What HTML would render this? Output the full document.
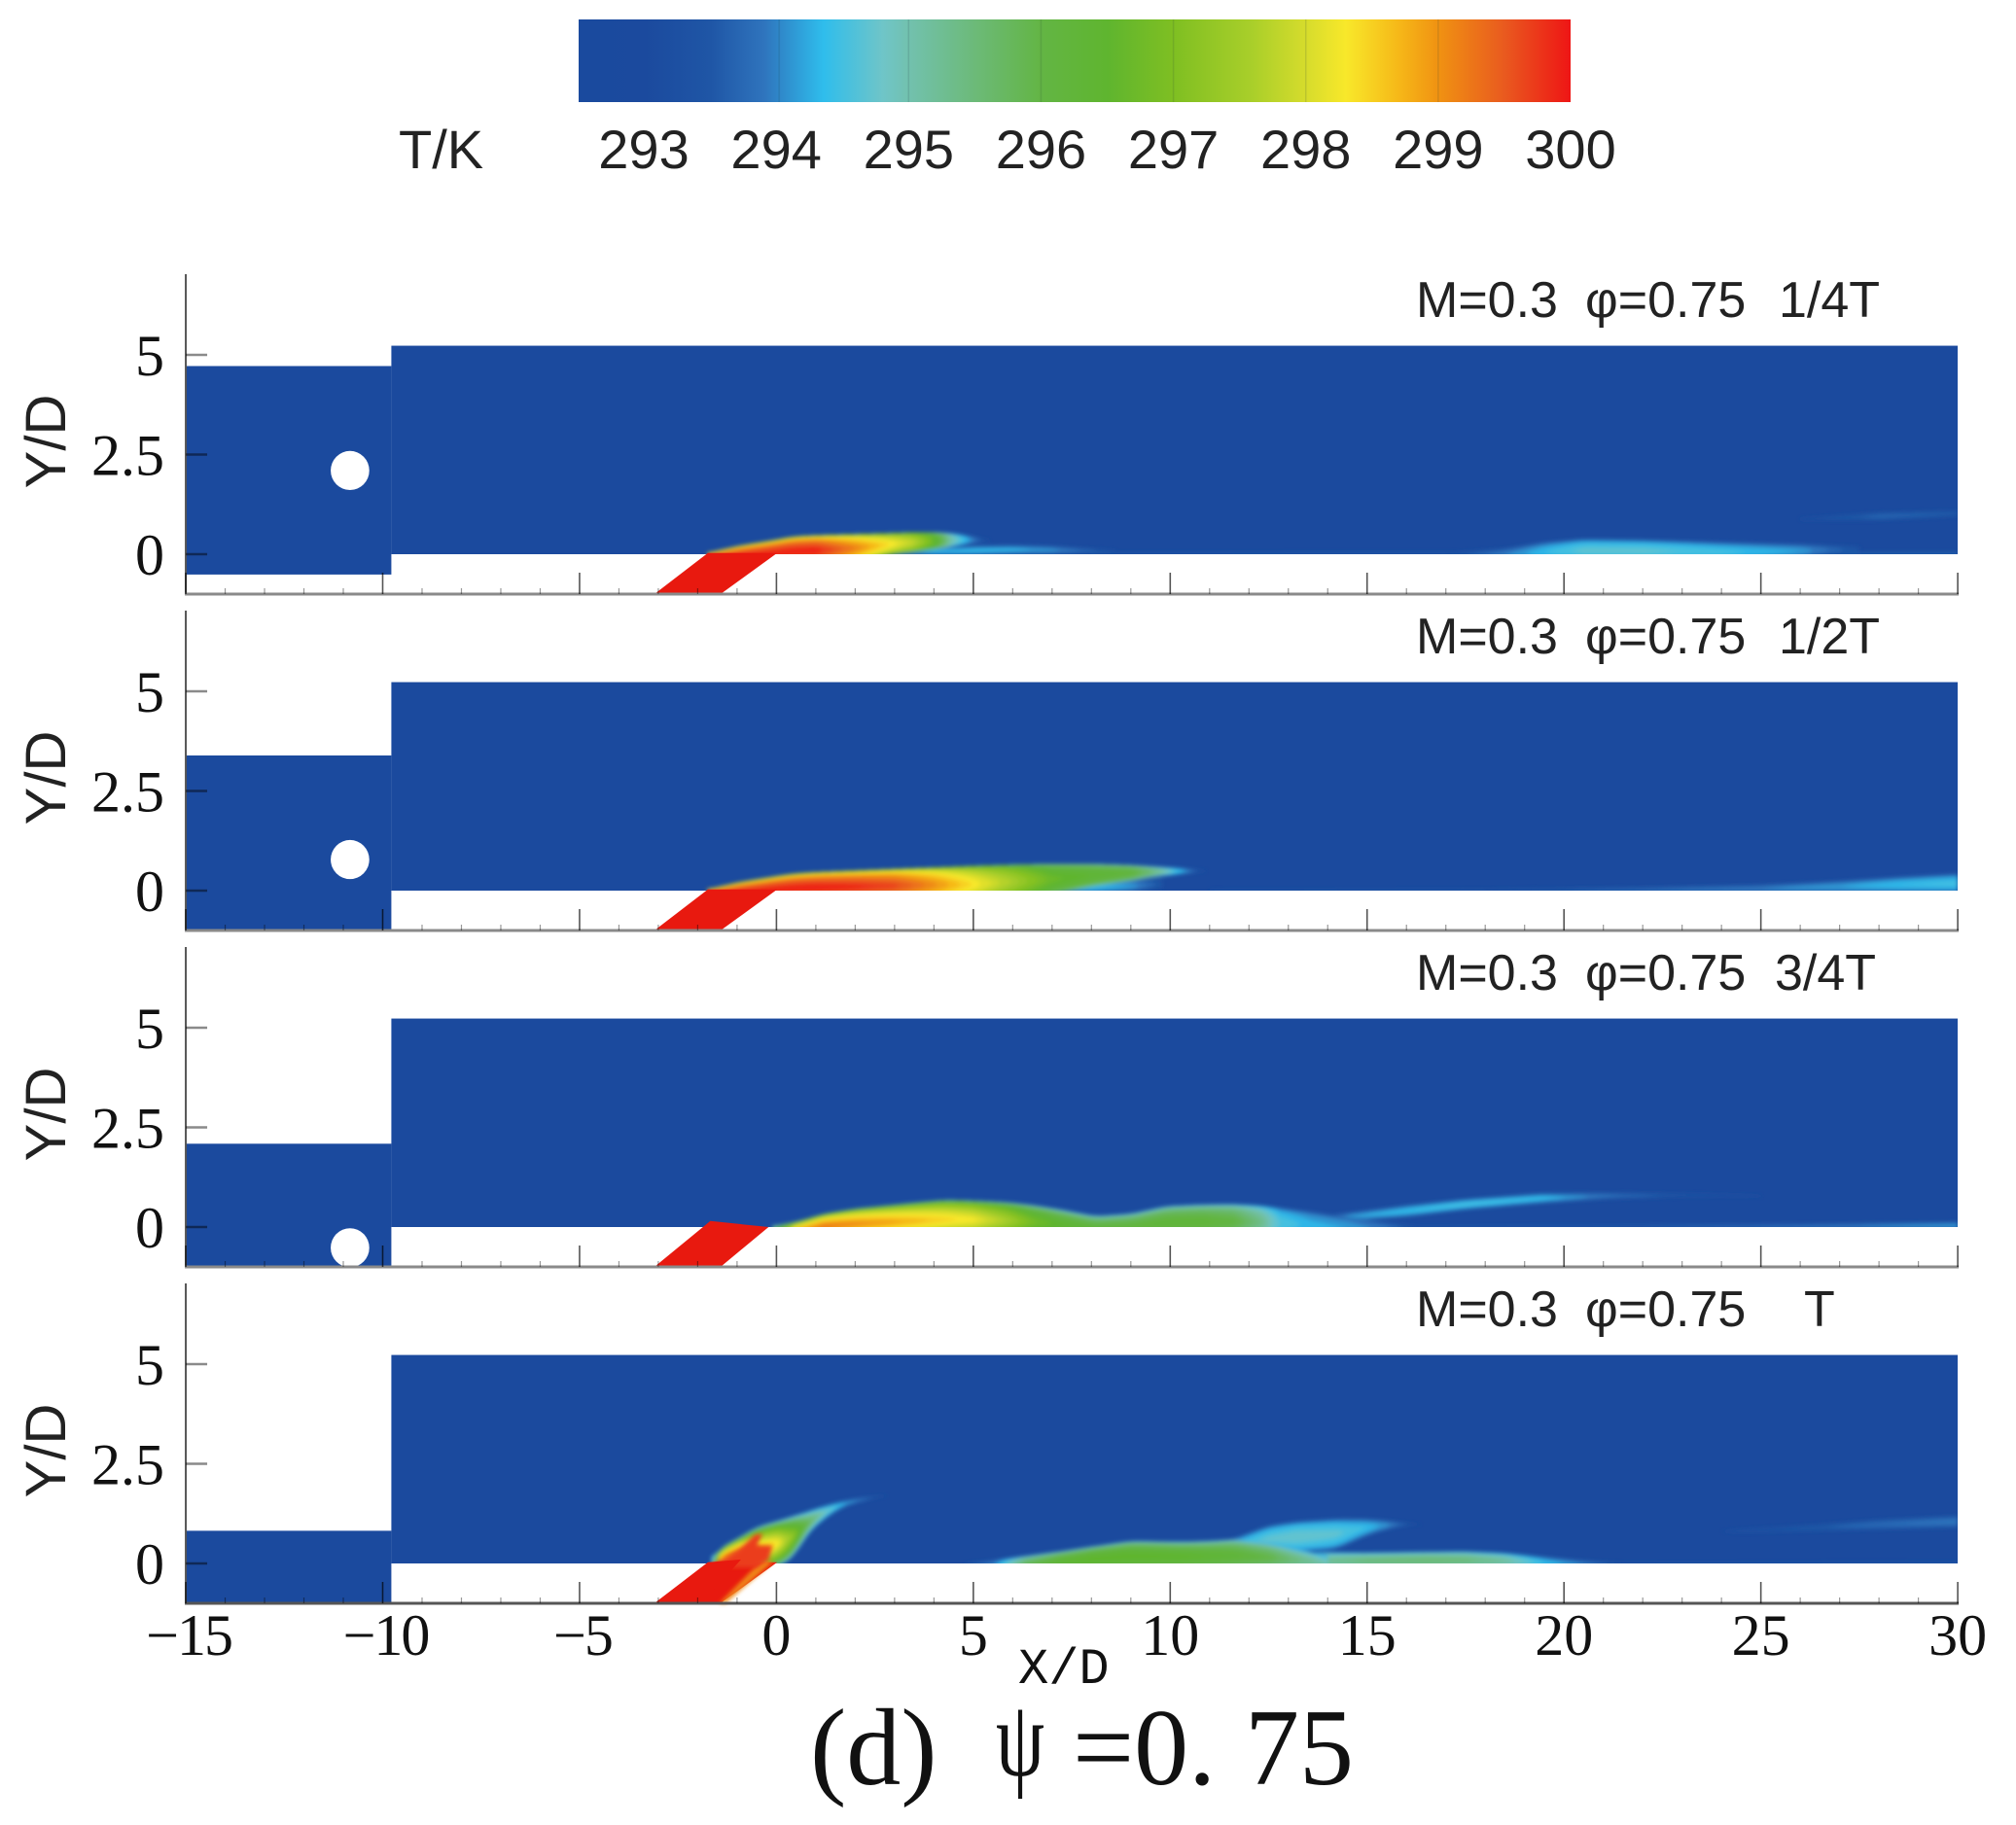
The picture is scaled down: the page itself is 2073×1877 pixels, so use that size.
<!DOCTYPE html>
<html lang="en">
<head>
<meta charset="utf-8">
<title>Temperature contours, psi = 0.75</title>
<style>
html,body{margin:0;padding:0;background:#fff;}
svg{display:block;}
.sans{font-family:"Liberation Sans",sans-serif;fill:#222;}
.serif{font-family:"Liberation Serif",serif;fill:#111;}
.mult{mix-blend-mode:multiply;}
</style>
</head>
<body>
<svg id="figure" xmlns="http://www.w3.org/2000/svg" width="2073" height="1877" viewBox="0 0 2073 1877">
  <defs>
    <linearGradient id="barGrad" x1="0" x2="1" y1="0" y2="0"></linearGradient>
    <filter id="soft" x="-5%" y="-50%" width="110%" height="200%"><feGaussianBlur stdDeviation="2"></feGaussianBlur></filter>
  </defs>
  <rect width="2073" height="1877" fill="#ffffff"></rect>
  <g id="colorbar"></g>
  <g id="plots"></g>

  <text class="sans" x="410" y="173" font-size="56">T/K</text>

  <g class="sans" font-size="52">
    <text x="1456" y="326">M=0.3</text><text x="1630" y="326">φ=0.75</text><text x="1829" y="326">1/4T</text>
  </g>
  <g class="sans" font-size="52">
    <text x="1456" y="672">M=0.3</text><text x="1630" y="672">φ=0.75</text><text x="1829" y="672">1/2T</text>
  </g>
  <g class="sans" font-size="52">
    <text x="1456" y="1018">M=0.3</text><text x="1630" y="1018">φ=0.75</text><text x="1825" y="1018">3/4T</text>
  </g>
  <g class="sans" font-size="52">
    <text x="1456" y="1364">M=0.3</text><text x="1630" y="1364">φ=0.75</text><text x="1855" y="1364">T</text>
  </g>

  <text class="sans" font-size="58" text-anchor="middle" transform="translate(67,454) rotate(-90)">Y/D</text>
  <text class="sans" font-size="58" text-anchor="middle" transform="translate(67,800) rotate(-90)">Y/D</text>
  <text class="sans" font-size="58" text-anchor="middle" transform="translate(67,1146) rotate(-90)">Y/D</text>
  <text class="sans" font-size="58" text-anchor="middle" transform="translate(67,1492) rotate(-90)">Y/D</text>

  <text font-family="'Liberation Mono',monospace" fill="#111" font-size="52" x="1047" y="1731">X/D</text>

  <g class="serif" font-size="112">
    <text x="833" y="1835">(d)</text>
    <text x="1024" y="1826" textLength="50" lengthAdjust="spacingAndGlyphs">ψ</text>
    <text x="1103" y="1835">=0.</text>
    <text x="1280" y="1835">75</text>
  </g>
</svg>

<script>
// Colormap
const mapTemps = [292.5,293,293.5,293.9,294.35,294.8,295,295.5,296,296.5,297,297.6,298,298.3,298.7,299,299.5,300];
const mapColors = ['#1a4a9e','#1b4a9e','#1f56a6','#2f74bd','#2fbdec','#6fc5c8','#72c1ae','#6cba78','#63b544','#5fb52f','#7fbf22','#aacf2a','#d6dc2c','#f8e82a','#f6b818','#f09212','#e95a1f','#ee1515'];
const barTicks = [293,294,295,296,297,298,299,300];

// Axis ticks
const xTicks = [-15,-10,-5,0,5,10,15,20,25,30];
const xMinorTicks = [-14,-13,-12,-11,-9,-8,-7,-6,-4,-3,-2,-1,1,2,3,4,6,7,8,9,11,12,13,14,16,17,18,19,21,22,23,24,26,27,28,29];
const yTicks = [5,2.5,0];

// Moving upstream plate: top edge and hole centre in each panel (Y/D)
const plateTop = [4.72,3.39,2.09,0.82];
const plateHoleY = [2.1,0.78,-0.52,-1.8];

// Coolant hole outlines
const slotX = [-3.1,-1.42,0.02,-1.74];
const slotY = [-1,-1,0.03,0.03];
const slot3X = [-3.1,-1.42,-0.2,-1.68];
const slot3Y = [-1,-1,0,0.15];

// Panel 1 (1/4T)
const p1JetX = [-1.74,-1,0,0.4,1,2,3,3.5,4,4.5,5,5.4];
const p1JetTop = [0.03,0.2,0.36,0.44,0.47,0.5,0.53,0.55,0.55,0.52,0.44,0.36];
const p1JetLow = [-0.3,-0.3,-0.3,-0.3,-0.3,-0.2,0,0.05,0.12,0.2,0.28,0.32];
const p1JetPeak = [300,300,300,300,300,299.2,298.3,297.8,296.8,295,294,293.3];
const p1WakeX = [3,4,5,6,7,8,8.6];
const p1WakeTop = [0.1,0.14,0.2,0.22,0.2,0.14,0.1];
const p1WakeLow = [-0.02,-0.02,-0.02,0,0,0.02,0.04];
const p1WakePeak = [293.8,294.4,294.4,294.3,294.1,293.7,293.3];
const p1FarX = [17,18.5,19.5,20.5,22,24,26,27.5];
const p1FarTop = [0.04,0.14,0.3,0.38,0.36,0.3,0.25,0.2];
const p1FarLow = [-0.2,-0.2,-0.2,-0.2,-0.2,-0.2,-0.1,0.05];
const p1FarPeak = [293.4,294,294.4,294.7,294.7,294.5,294.2,293.4];
const p1StreakX = [26,28,30];
const p1StreakTop = [0.9,1.05,1.1];
const p1StreakLow = [0.85,0.85,0.95];
const p1StreakPeak = [293.3,293.7,293.6];
const p1WallX = [8,14,20,30];
const p1WallTop = [0.04,0.05,0.05,0.05];
const p1WallLow = [-0.05,-0.05,-0.05,-0.05];
const p1WallPeak = [293.5,293.6,293.6,293.7];

// Panel 2 (1/2T)
const p2JetX = [-1.74,-1,0,0.4,1,2,3,4,5,6,7,8,9,9.6,10.3,10.9];
const p2JetTop = [0.03,0.2,0.36,0.42,0.46,0.5,0.54,0.58,0.62,0.65,0.67,0.67,0.64,0.6,0.56,0.5];
const p2JetLow = [-0.3,-0.3,-0.3,-0.3,-0.3,-0.3,-0.3,-0.3,-0.3,-0.2,-0.1,0.1,0.25,0.35,0.42,0.48];
const p2JetPeak = [300,300,300,300,300,299.9,299.7,299.1,298.4,297.6,296.7,296.4,296.2,295.5,294.3,293.3];
const p2WakeX = [4,6,7,8,9,9.8];
const p2WakeTop = [0.05,0.1,0.14,0.2,0.25,0.3];
const p2WakeLow = [-0.05,-0.05,-0.05,-0.05,-0.02,0.05];
const p2WakePeak = [293.6,294.2,294.4,294.4,294.2,293.5];
const p2FarX = [18,22,25,27,28.5,30];
const p2FarTop = [0.04,0.08,0.14,0.24,0.34,0.42];
const p2FarLow = [-0.05,-0.05,-0.05,-0.05,-0.05,-0.05];
const p2FarPeak = [293.4,293.8,294,294.2,294.4,294.5];
const p2WallX = [11,18];
const p2WallTop = [0.03,0.04];
const p2WallLow = [-0.05,-0.05];
const p2WallPeak = [293.4,293.5];

// Panel 3 (3/4T)
const p3JetX = [-0.1,0.5,1.2,2,2.9,3.6,4.3,5,5.85,6.5,7.2,8.1,9,9.9,10.8,11.6,12.3,12.8,13.6,14.5,15.5,16.3];
const p3JetTop = [0.02,0.13,0.33,0.46,0.55,0.62,0.68,0.66,0.62,0.55,0.44,0.27,0.33,0.52,0.56,0.57,0.54,0.48,0.38,0.24,0.12,0.03];
const p3JetLow = [-0.3,-0.3,-0.3,-0.3,-0.3,-0.3,-0.3,-0.3,-0.3,-0.3,-0.3,-0.3,-0.3,-0.3,-0.3,-0.3,-0.3,-0.3,-0.3,-0.3,-0.3,-0.3];
const p3JetPeak = [296,298.8,299.3,299.1,298.9,298.7,298.5,298.3,297.6,296.9,296.5,296.2,296.2,296.3,296.3,296.1,295.4,294.6,294.3,294.2,293.9,293.4];
const p3StreakX = [13.5,14.7,16,17.5,19.4,21,23,25];
const p3StreakTop = [0.24,0.38,0.54,0.7,0.84,0.86,0.84,0.8];
const p3StreakLow = [0.14,0.16,0.26,0.44,0.6,0.7,0.76,0.76];
const p3StreakPeak = [293.5,294.2,294.4,294.5,294.4,293.9,293.5,293.3];
const p3WallX = [16,22,26,30];
const p3WallTop = [0.03,0.05,0.07,0.12];
const p3WallLow = [-0.05,-0.05,-0.05,-0.05];
const p3WallPeak = [293.5,293.6,293.9,294.2];

// Panel 4 (T)
const p4JetX = [-1.65,-1.43,-1,-0.5,0,0.45,0.77,1.2,1.7,2.2,2.8];
const p4JetTop = [0.1,0.4,0.62,0.92,1.06,1.2,1.3,1.45,1.58,1.66,1.72];
const p4JetLow = [-0.1,-0.1,-0.1,-0.15,-0.1,0.15,0.72,1.1,1.42,1.56,1.7];
const p4JetPeak = [295,299,299.6,298.8,298.5,297.2,296,295,294.3,293.9,293.3];
const p4WallAX = [4.8,5.5,6.3,7.2,8,9,10.3,11,11.6,12.5,13.2,13.7,14];
const p4WallATop = [0.01,0.08,0.18,0.3,0.42,0.56,0.54,0.56,0.6,0.5,0.36,0.26,0.18];
const p4WallALow = [-0.2,-0.2,-0.2,-0.2,-0.2,-0.2,-0.2,-0.2,-0.2,-0.2,-0.2,-0.2,-0.2];
const p4WallAPeak = [293.5,294,295.8,296.4,296.6,296.6,296.5,296.4,296.3,296,295.5,295.2,295];
const p4LobeX = [11,11.6,12.5,13.2,14.2,15,15.5,16,16.4];
const p4LobeTop = [0.5,0.62,0.95,1.05,1.12,1.12,1.08,1.02,0.98];
const p4LobeLow = [0.3,0.3,0.28,0.28,0.35,0.7,0.85,0.95,0.98];
const p4LobePeak = [293.8,294.4,294.7,294.8,294.7,294.4,294.1,293.6,293.2];
const p4WallBX = [13.5,15,16.5,17.5,18.5,19.5,20.5,21.5];
const p4WallBTop = [0.28,0.27,0.29,0.3,0.26,0.16,0.07,0.02];
const p4WallBLow = [-0.15,-0.15,-0.15,-0.15,-0.15,-0.15,-0.15,-0.15];
const p4WallBPeak = [295.2,295.5,295.6,295.5,295.2,294.4,294,293.4];
const p4FarX = [24,26,28,30];
const p4FarTop = [0.85,0.95,1.1,1.2];
const p4FarLow = [0.75,0.8,0.85,0.9];
const p4FarPeak = [293.2,293.5,293.8,293.9];
const p4WallCX = [21,30];
const p4WallCTop = [0.02,0.03];
const p4WallCLow = [-0.05,-0.05];
const p4WallCPeak = [293.5,293.6];
const p4FlameX = [-1.6,-1,-0.55,-0.35,-0.5,-0.1,-0.2,-0.5,-1.6];
const p4FlameY = [0,0.3,0.72,0.75,0.45,0.45,0.1,-0.1,-0.1];
const p4FlameT = [299.7];
const p4StripX = [-0.35,-0.08,-1.3,-1.45];
const p4StripY = [0.1,0.05,-1,-1];
const p4StripT = [299.1];

// Plume grouping per panel (fifth entry: sharpness of the thermal edge)
const panel1Plumes = [
  [p1WallX,p1WallTop,p1WallLow,p1WallPeak,4],[p1FarX,p1FarTop,p1FarLow,p1FarPeak,4],[p1StreakX,p1StreakTop,p1StreakLow,p1StreakPeak,4],
  [p1WakeX,p1WakeTop,p1WakeLow,p1WakePeak,4],[p1JetX,p1JetTop,p1JetLow,p1JetPeak,8]];
const panel2Plumes = [
  [p2WallX,p2WallTop,p2WallLow,p2WallPeak,4],[p2FarX,p2FarTop,p2FarLow,p2FarPeak,4],
  [p2WakeX,p2WakeTop,p2WakeLow,p2WakePeak,4],[p2JetX,p2JetTop,p2JetLow,p2JetPeak,8]];
const panel3Plumes = [
  [p3WallX,p3WallTop,p3WallLow,p3WallPeak,4],[p3StreakX,p3StreakTop,p3StreakLow,p3StreakPeak,4],[p3JetX,p3JetTop,p3JetLow,p3JetPeak,5]];
const panel4Plumes = [
  [p4WallCX,p4WallCTop,p4WallCLow,p4WallCPeak,4],[p4FarX,p4FarTop,p4FarLow,p4FarPeak,4],[p4LobeX,p4LobeTop,p4LobeLow,p4LobePeak,4],
  [p4WallBX,p4WallBTop,p4WallBLow,p4WallBPeak,5],[p4WallAX,p4WallATop,p4WallALow,p4WallAPeak,5],[p4JetX,p4JetTop,p4JetLow,p4JetPeak,3]];
const allPlumes = [panel1Plumes,panel2Plumes,panel3Plumes,panel4Plumes];

const NS = 'http://www.w3.org/2000/svg';
const PANEL_STEP = 346;
const Y_ZERO = 570;
const X_SCALE = 40.49;
const Y_SCALE = 41;
const CHANNEL_TOP = 5.23;
const CHANNEL_LEFT = -9.78;
const HOLE_R = 0.49;
const HOLE_X = -10.83;

function xs(x){ return 798.4 + X_SCALE * x; }
function ys(i, y){ return Y_ZERO + PANEL_STEP * i - Y_SCALE * y; }

function hexRgb(h){ return [1,3,5].map(k => parseInt(h.substr(k,2),16)); }
function cmap(t){
  if (t <= mapTemps[0]) return mapColors[0];
  for (let k = 1; k < mapTemps.length; k++) {
    if (t <= mapTemps[k]) {
      const f = (t - mapTemps[k-1]) / (mapTemps[k] - mapTemps[k-1]);
      const a = hexRgb(mapColors[k-1]), b = hexRgb(mapColors[k]);
      return 'rgb(' + a.map((v,j) => Math.round(v + (b[j]-v)*f)).join(',') + ')';
    }
  }
  return mapColors[mapColors.length-1];
}
function make(tag, parent){
  const n = document.createElementNS(NS, tag);
  parent.appendChild(n);
  return n;
}
function set(n, key, val){ n.setAttribute(key, val); }
function lerpAt(xa, ya, x){
  if (x <= xa[0]) return ya[0];
  for (let k = 1; k < xa.length; k++) {
    if (x <= xa[k]) {
      const f = (x - xa[k-1]) / (xa[k] - xa[k-1]);
      return ya[k-1] + (ya[k]-ya[k-1])*f;
    }
  }
  return ya[ya.length-1];
}
function smoothAt(xa, ya, x){
  const d = [-0.2,-0.1,0,0.1,0.2];
  let s = 0;
  d.forEach(v => { s += lerpAt(xa, ya, x + v); });
  return s / d.length;
}
function polyPoints(i, xa, ya){
  return xa.map((x,k) => xs(x).toFixed(1) + ',' + ys(i, ya[k]).toFixed(1)).join(' ');
}

/* ---------- colour bar ---------- */
const grad = document.getElementById('barGrad');
const BAR_L = 595, BAR_R = 1615;
const tMin = mapTemps[0], tMax = mapTemps[mapTemps.length-1];
mapTemps.forEach((t,k) => {
  const s = document.createElementNS(NS,'stop');
  s.setAttribute('offset', ((t - tMin)/(tMax - tMin)).toFixed(4));
  s.setAttribute('stop-color', mapColors[k]);
  grad.appendChild(s);
});
function barX(t){ return 662 + (t - 293) * (1615 - 662) / 7; }
const cb = document.getElementById('colorbar');
const barRect = make('rect', cb);


set(barRect,'x',BAR_L); set(barRect,'y',20); set(barRect,'width',BAR_R-BAR_L); set(barRect,'height',85);
set(barRect,'fill','url(#barGrad)');
barTicks.forEach(t => {
  if (t > 293 && t < 300) {
    const ln = make('line', cb);
    
    
    set(ln,'x1',barX(t)+(t===294?3:0)); set(ln,'x2',barX(t)+(t===294?3:0)); set(ln,'y1',20); set(ln,'y2',105);
    set(ln,'stroke','rgba(30,60,60,0.14)'); set(ln,'stroke-width',1.5);
  }
  const tx = make('text', cb);
  
  
  set(tx,'class','sans'); set(tx,'x',barX(t)); set(tx,'y',173); set(tx,'font-size',56); set(tx,'text-anchor','middle');
  tx.textContent = String(t);
});

/* ---------- filled contours ---------- */
const LEVEL_STEP = 0.2;
function drawPlume(i, parent, plume){
  const xa = plume[0], top = plume[1], low = plume[2], peak = plume[3], sharp = plume[4];
  const samples = [];
  const x0 = xa[0], x1 = xa[xa.length-1];
  for (let x = x0; x < x1; x += 0.1) samples.push(x);
  samples.push(x1);
  for (let L = 293.2; L < 300.01; L += LEVEL_STEP) {
    let upper = [], lower = [];
    const flush = () => {
      if (upper.length > 1) {
        const poly = make('polygon', parent);
        
        
        set(poly,'points', upper.concat(lower.reverse()).join(' '));
        set(poly,'fill', cmap(L + LEVEL_STEP/2));
      }
      upper = []; lower = [];
    };
    samples.forEach(x => {
      const p = lerpAt(xa, peak, x);
      if (p <= L - 0.0001) { flush(); return; }
      const tp = smoothAt(xa, top, x), lw = smoothAt(xa, low, x);
      const f = Math.min(1, (L - 293) / Math.max(0.001, p - 293));
      const w = 1 - Math.pow(f, sharp);
      const mid = (tp + lw) / 2, half = (tp - lw) / 2;
      upper.push(xs(x).toFixed(1) + ',' + ys(i, mid + half * w).toFixed(1));
      lower.push(xs(x).toFixed(1) + ',' + ys(i, mid - half * w).toFixed(1));
    });
    flush();
  }
}

/* ---------- panels ---------- */
const plots = document.getElementById('plots');
const panelNames = ['quarter-period','half-period','three-quarter-period','full-period'];
plateTop.forEach((topY, i) => {
  const g = make('g', plots);
  
  

  const channel = make('rect', g);
  
  
  set(channel,'x',xs(CHANNEL_LEFT)); set(channel,'y',ys(i,CHANNEL_TOP));
  set(channel,'width',xs(30)-xs(CHANNEL_LEFT)); set(channel,'height',ys(i,0)-ys(i,CHANNEL_TOP));
  set(channel,'fill','#1b4a9e');

  const plumeGroup = make('g', g);
  
  
  set(plumeGroup,'filter','url(#soft)');
  allPlumes[i].forEach(pl => drawPlume(i, plumeGroup, pl));

  // mask everything spilling past the channel on the right and below the wall
  const wallMask = make('rect', g);
  
  
  set(wallMask,'x',xs(CHANNEL_LEFT)); set(wallMask,'y',ys(i,0));
  set(wallMask,'width',xs(30)-xs(CHANNEL_LEFT)+12); set(wallMask,'height',ys(i,-1)-ys(i,0));
  set(wallMask,'fill','#ffffff');
  const rightMask = make('rect', g);
  
  
  set(rightMask,'x',xs(30)); set(rightMask,'y',ys(i,CHANNEL_TOP));
  set(rightMask,'width',14); set(rightMask,'height',ys(i,0)-ys(i,CHANNEL_TOP));
  set(rightMask,'fill','#ffffff');

  // moving plate with hole
  const plate = make('rect', g);
  
  
  const plateBottom = Math.max(topY - CHANNEL_TOP, -1);
  set(plate,'x',xs(-15)); set(plate,'y',ys(i,topY));
  set(plate,'width',xs(CHANNEL_LEFT)-xs(-15)); set(plate,'height',ys(i,plateBottom)-ys(i,topY));
  set(plate,'fill','#1b4a9e');
  if (plateHoleY[i] + HOLE_R > -1) {
    const hole = make('ellipse', g);
    
    
    set(hole,'cx',xs(HOLE_X)); set(hole,'cy',ys(i,plateHoleY[i]));
    set(hole,'rx',HOLE_R*X_SCALE); set(hole,'ry',HOLE_R*Y_SCALE);
    set(hole,'fill','#ffffff');
  }

  // coolant slot
  const slot = make('polygon', g);
  
  
  set(slot,'points', i === 2 ? polyPoints(i, slot3X, slot3Y) : polyPoints(i, slotX, slotY));
  set(slot,'fill','#e8190f');
  if (i === 3) {
    const strip = make('polygon', g);
    
    
    set(strip,'points', polyPoints(i, p4StripX, p4StripY));
    set(strip,'fill', cmap(p4StripT[0]));
    set(strip,'filter','url(#soft)');
    const flame = make('polygon', g);
    
    
    set(flame,'points', polyPoints(i, p4FlameX, p4FlameY));
    set(flame,'fill', cmap(p4FlameT[0]));
    set(flame,'filter','url(#soft)');
    const reslot = make('polygon', g);
    
    
    set(reslot,'points', polyPoints(i, [-3.1,-1.9,-0.9,-1.72], [-1,-1,0.1,0.03]));
    set(reslot,'fill','#e8190f');
  }

  // axes
  const yAxis = make('line', g);
  
  
  set(yAxis,'x1',xs(-15)); set(yAxis,'x2',xs(-15)); set(yAxis,'y1',ys(i,-1)-329); set(yAxis,'y2',ys(i,-1));
  set(yAxis,'stroke','#555'); set(yAxis,'stroke-width',2);

  const xAxis = make('line', g);
  
  
  set(xAxis,'x1',xs(-15)-1); set(xAxis,'x2',xs(30)+1); set(xAxis,'y1',ys(i,-1)); set(xAxis,'y2',ys(i,-1));
  set(xAxis,'stroke', i === 3 ? '#555' : '#8a8a8a'); set(xAxis,'stroke-width',3);

  xTicks.forEach(t => {
    const ln = make('line', g);
    
    
    set(ln,'class','mult');
    set(ln,'x1',xs(t)); set(ln,'x2',xs(t)); set(ln,'y1',ys(i,-1)); set(ln,'y2',ys(i,-1)-22);
    set(ln,'stroke','#555'); set(ln,'stroke-width',1.6);
    if (i === 3) {
      const tx = make('text', g);
      
      
      set(tx,'class','serif'); set(tx,'x',xs(t) + (t < 0 ? 3 : 0)); set(tx,'y',1702);
      set(tx,'font-size',60); set(tx,'text-anchor','middle');
      if (t < 0) set(tx,'letter-spacing','-2');
      tx.textContent = (t < 0 ? '\u2212' + Math.abs(t) : String(t));
    }
  });
  xMinorTicks.forEach(t => {
    const ln = make('line', g);
    
    
    set(ln,'class','mult');
    set(ln,'x1',xs(t)); set(ln,'x2',xs(t)); set(ln,'y1',ys(i,-1)); set(ln,'y2',ys(i,-1)-6);
    set(ln,'stroke','#999'); set(ln,'stroke-width',1.2);
  });
  yTicks.forEach(t => {
    const ln = make('line', g);
    
    
    set(ln,'class','mult');
    set(ln,'x1',xs(-15)); set(ln,'x2',xs(-15)+22); set(ln,'y1',ys(i,t)); set(ln,'y2',ys(i,t));
    set(ln,'stroke','#8a8a8a'); set(ln,'stroke-width',2.5);
    const tx = make('text', g);
    
    
    set(tx,'class','serif'); set(tx,'x',169); set(tx,'y',ys(i,t)+21);
    set(tx,'font-size',60); set(tx,'text-anchor','end');
    tx.textContent = String(t);
  });
});
</script>
</body>
</html>
